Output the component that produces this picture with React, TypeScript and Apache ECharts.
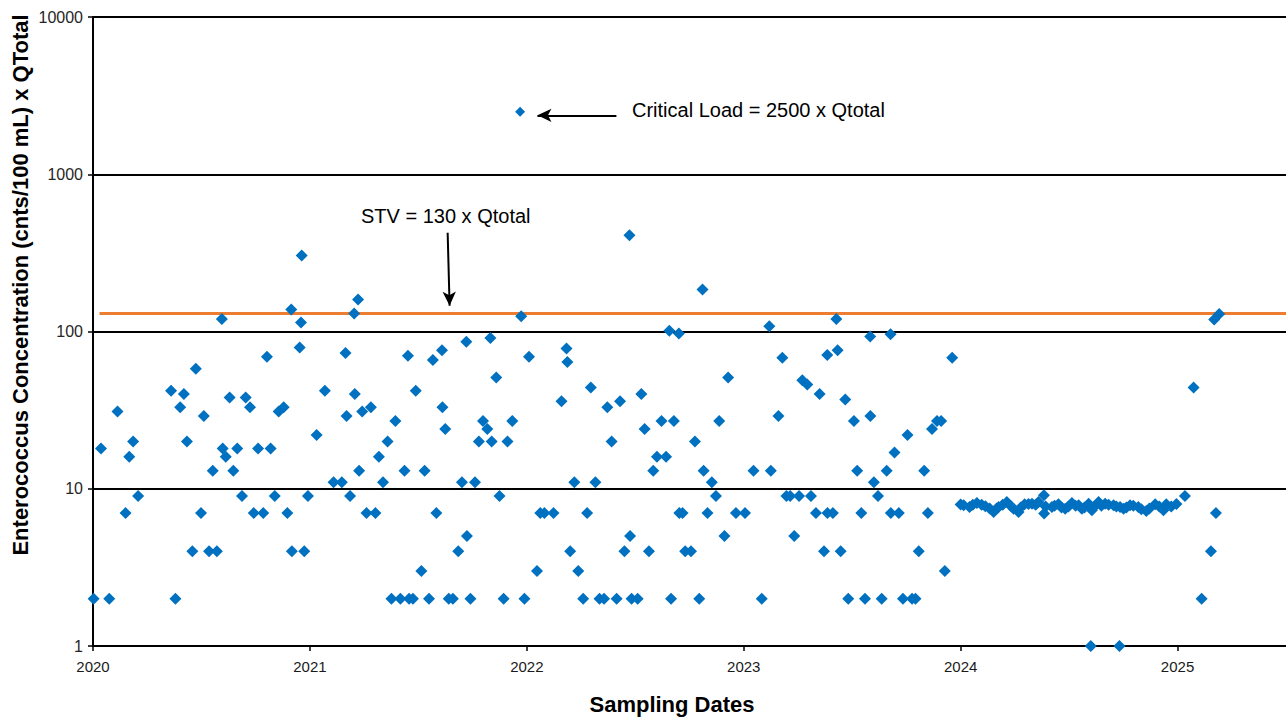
import React, { useEffect, useRef } from "react";
import * as echarts from "echarts";

// Sampling date (decimal year) and Enterococcus load (cnts/100 mL x QTotal)
const samples2020: [number, number][] = [
  [2020.003, 2], [2020.037, 18], [2020.075, 2], [2020.113, 31], [2020.15, 7], [2020.167, 16], [2020.185, 20],
  [2020.208, 9], [2020.36, 42], [2020.38, 2], [2020.402, 33], [2020.419, 40], [2020.433, 20], [2020.458, 4],
  [2020.474, 58], [2020.498, 7], [2020.511, 29], [2020.535, 4], [2020.552, 13], [2020.571, 4], [2020.594, 120],
  [2020.598, 18], [2020.612, 16], [2020.63, 38], [2020.647, 13], [2020.665, 18], [2020.687, 9], [2020.704, 38],
  [2020.724, 33], [2020.741, 7], [2020.761, 18], [2020.785, 7], [2020.802, 69], [2020.819, 18], [2020.838, 9],
  [2020.856, 31], [2020.879, 33], [2020.896, 7], [2020.914, 138], [2020.917, 4], [2020.953, 79], [2020.959, 114],
  [2020.962, 304], [2020.974, 4], [2020.991, 9],
];

const samples2021: [number, number][] = [
  [2021.031, 22], [2021.069, 42], [2021.109, 11], [2021.147, 11], [2021.164, 73], [2021.169, 29], [2021.185, 9],
  [2021.204, 130], [2021.207, 40], [2021.222, 160], [2021.227, 13], [2021.241, 31], [2021.261, 7], [2021.281, 33],
  [2021.302, 7], [2021.318, 16], [2021.337, 11], [2021.358, 20], [2021.376, 2], [2021.394, 27], [2021.417, 2],
  [2021.436, 13], [2021.452, 70], [2021.457, 2], [2021.475, 2], [2021.488, 42], [2021.514, 3], [2021.529, 13],
  [2021.549, 2], [2021.567, 66], [2021.583, 7], [2021.609, 76], [2021.611, 33], [2021.624, 24], [2021.64, 2],
  [2021.659, 2], [2021.684, 4], [2021.701, 11], [2021.721, 86], [2021.724, 5], [2021.74, 2], [2021.761, 11],
  [2021.779, 20], [2021.798, 27], [2021.818, 24], [2021.832, 91], [2021.838, 20], [2021.859, 51], [2021.874, 9],
  [2021.893, 2], [2021.911, 20], [2021.933, 27], [2021.974, 125], [2021.989, 2],
];

const criticalSample: [number, number][] = [[2021.969, 2500]];

const samples2022: [number, number][] = [
  [2022.01, 69], [2022.047, 3], [2022.062, 7], [2022.081, 7], [2022.123, 7], [2022.16, 36], [2022.183, 78],
  [2022.187, 64], [2022.2, 4], [2022.219, 11], [2022.237, 3], [2022.26, 2], [2022.278, 7], [2022.295, 44],
  [2022.316, 11], [2022.335, 2], [2022.356, 2], [2022.371, 33], [2022.391, 20], [2022.414, 2], [2022.43, 36],
  [2022.45, 4], [2022.473, 410], [2022.476, 5], [2022.483, 2], [2022.511, 2], [2022.528, 40], [2022.543, 24],
  [2022.563, 4], [2022.583, 13], [2022.6, 16], [2022.621, 27], [2022.642, 16], [2022.657, 101], [2022.665, 2],
  [2022.678, 27], [2022.701, 97], [2022.703, 7], [2022.718, 7], [2022.73, 4], [2022.757, 4], [2022.775, 20],
  [2022.795, 2], [2022.81, 185], [2022.815, 13], [2022.833, 7], [2022.853, 11], [2022.872, 9], [2022.887, 27],
  [2022.911, 5], [2022.928, 51], [2022.964, 7],
];

const samples2023: [number, number][] = [
  [2023.006, 7], [2023.045, 13], [2023.083, 2], [2023.118, 108], [2023.125, 13], [2023.16, 29], [2023.178, 68],
  [2023.197, 9], [2023.214, 9], [2023.233, 5], [2023.255, 9], [2023.27, 49], [2023.293, 46], [2023.31, 9],
  [2023.333, 7], [2023.35, 40], [2023.37, 4], [2023.385, 71], [2023.386, 7], [2023.411, 7], [2023.427, 120],
  [2023.433, 76], [2023.447, 4], [2023.468, 37], [2023.482, 2], [2023.508, 27], [2023.523, 13], [2023.542, 7],
  [2023.559, 2], [2023.583, 93], [2023.584, 29], [2023.6, 11], [2023.619, 9], [2023.636, 2], [2023.659, 13],
  [2023.677, 96], [2023.678, 7], [2023.695, 17], [2023.715, 7], [2023.734, 2], [2023.755, 22], [2023.776, 2],
  [2023.792, 2], [2023.807, 4], [2023.832, 13], [2023.849, 7], [2023.868, 24], [2023.891, 27], [2023.91, 27],
  [2023.927, 3], [2023.961, 68],
];

const samples2024: [number, number][] = [
  [2024.0, 7.95], [2024.014, 7.85], [2024.041, 7.65], [2024.056, 7.9], [2024.075, 8.13], [2024.097, 7.9],
  [2024.114, 7.73], [2024.134, 7.5], [2024.152, 7.12], [2024.166, 7.5], [2024.175, 7.65], [2024.194, 7.9],
  [2024.213, 8.25], [2024.23, 7.8], [2024.244, 7.46], [2024.267, 7.12], [2024.277, 7.6], [2024.295, 7.98],
  [2024.313, 8.0], [2024.329, 8.04], [2024.346, 7.9], [2024.359, 8.25], [2024.384, 9.1], [2024.385, 6.96],
  [2024.392, 7.7], [2024.421, 7.65], [2024.433, 7.8], [2024.451, 7.98], [2024.465, 7.6], [2024.482, 7.46],
  [2024.497, 7.7], [2024.513, 8.13], [2024.53, 7.8], [2024.544, 7.85], [2024.559, 7.46], [2024.571, 7.6],
  [2024.59, 8.04], [2024.6, 1], [2024.605, 7.3], [2024.617, 7.7], [2024.636, 8.25], [2024.649, 7.8],
  [2024.666, 8.04], [2024.682, 7.9], [2024.705, 7.85], [2024.718, 7.7], [2024.732, 1], [2024.735, 7.65],
  [2024.751, 7.46], [2024.764, 7.6], [2024.781, 7.85], [2024.796, 7.8], [2024.819, 7.65], [2024.833, 7.4],
  [2024.856, 7.22], [2024.87, 7.5], [2024.897, 7.98], [2024.916, 7.7], [2024.935, 7.3], [2024.948, 7.98],
  [2024.971, 7.7], [2024.995, 8.0],
];

const samples2025: [number, number][] = [
  [2025.034, 9], [2025.074, 44], [2025.111, 2], [2025.154, 4], [2025.169, 119], [2025.177, 7], [2025.192, 129],
];

// STV threshold line (130 x Qtotal)
const stvValue = 130;
const stvStart = 2020.03;
const stvEnd = 2025.5;

// Annotation arrows (data coordinates)
const stvArrow: [number, number][] = [[2021.635, 425], [2021.644, 146]];
const criticalArrow: [number, number][] = [[2022.413, 2371], [2022.049, 2371]];

const xTicks = [2020, 2021, 2022, 2023, 2024, 2025];

const FONT = "'Liberation Sans', Arial, sans-serif";

export default function App() {
  const ref = useRef<HTMLDivElement>(null);

  useEffect(() => {
    if (!ref.current) return;
    const chart = echarts.init(ref.current, null, { renderer: "svg" });
    const allSamples = [
      ...samples2020, ...samples2021, ...samples2022, ...samples2023, ...samples2024, ...samples2025,
    ];
    chart.setOption({
      animation: false,
      backgroundColor: "#fff",
      textStyle: { fontFamily: FONT },
      grid: { left: 93, right: 0, top: 17, bottom: 78, containLabel: false },
      xAxis: {
        type: "value",
        min: xTicks[0],
        max: stvEnd,
        interval: 1,
        axisLine: { show: true, lineStyle: { color: "#000", width: 2 } },
        axisTick: { show: true, length: 5, lineStyle: { color: "#000", width: 1.5 } },
        splitLine: { show: false },
        axisLabel: {
          margin: 13,
          fontSize: 15,
          color: "#1a1a1a",
          fontFamily: FONT,
          showMaxLabel: false,
          formatter: (v: number) => (xTicks.includes(Math.round(v * 1000) / 1000) ? String(v) : ""),
        },
      },
      yAxis: {
        type: "log",
        logBase: 10,
        min: 1,
        max: 10000,
        axisLine: { show: true, lineStyle: { color: "#000", width: 2 } },
        axisTick: { show: true, length: 5, lineStyle: { color: "#000", width: 1.5 } },
        splitLine: { show: true, lineStyle: { color: "#000", width: 2 } },
        minorTick: { show: false },
        axisLabel: {
          margin: 10,
          fontSize: 16,
          color: "#262626",
          fontFamily: FONT,
          formatter: (v: number) => String(Math.round(v)),
        },
      },
      series: [
        {
          name: "STV",
          type: "line",
          data: [[stvStart, stvValue], [stvEnd, stvValue]],
          symbol: "none",
          lineStyle: { color: "#ED7D31", width: 3 },
          z: 1,
          markLine: {
            silent: true,
            symbol: ["none", "arrow"],
            symbolSize: [10, 14],
            lineStyle: { color: "#000", width: 2, type: "solid" },
            label: { show: false },
            data: [
              [{ coord: stvArrow[0] }, { coord: stvArrow[1] }],
              [{ coord: criticalArrow[0] }, { coord: criticalArrow[1] }],
            ],
          },
        },
        {
          name: "Enterococcus",
          type: "scatter",
          data: allSamples,
          symbol: "diamond",
          symbolSize: 12,
          clip: false,
          itemStyle: { color: "#0070C0", opacity: 1 },
          z: 3,
        },
        {
          name: "Critical",
          type: "scatter",
          data: criticalSample,
          symbol: "diamond",
          symbolSize: 10,
          clip: false,
          itemStyle: { color: "#0070C0", opacity: 1 },
          z: 3,
        },
      ],
      graphic: [
        {
          type: "text",
          x: 20,
          y: 285,
          rotation: Math.PI / 2,
          style: {
            text: "Enterococcus Concentration (cnts/100 mL) x QTotal",
            fontSize: 22,
            fontWeight: "bold",
            fontFamily: FONT,
            fill: "#000",
            align: "center",
            verticalAlign: "middle",
          },
        },
        {
          type: "text",
          x: 672,
          y: 704,
          style: {
            text: "Sampling Dates",
            fontSize: 22,
            fontWeight: "bold",
            fontFamily: FONT,
            fill: "#000",
            align: "center",
            verticalAlign: "middle",
          },
        },
        {
          type: "text",
          x: 632,
          y: 110,
          style: {
            text: "Critical Load = 2500 x Qtotal",
            fontSize: 20,
            fontFamily: FONT,
            fill: "#000",
            align: "left",
            verticalAlign: "middle",
          },
        },
        {
          type: "text",
          x: 361,
          y: 216,
          style: {
            text: "STV = 130 x Qtotal",
            fontSize: 20,
            fontFamily: FONT,
            fill: "#000",
            align: "left",
            verticalAlign: "middle",
          },
        },
      ],
    });
    return () => chart.dispose();
  }, []);

  return (
    <div
      ref={ref}
      style={{ position: "fixed", left: 0, top: 0, width: 1286, height: 724, background: "#fff" }}
    />
  );
}
